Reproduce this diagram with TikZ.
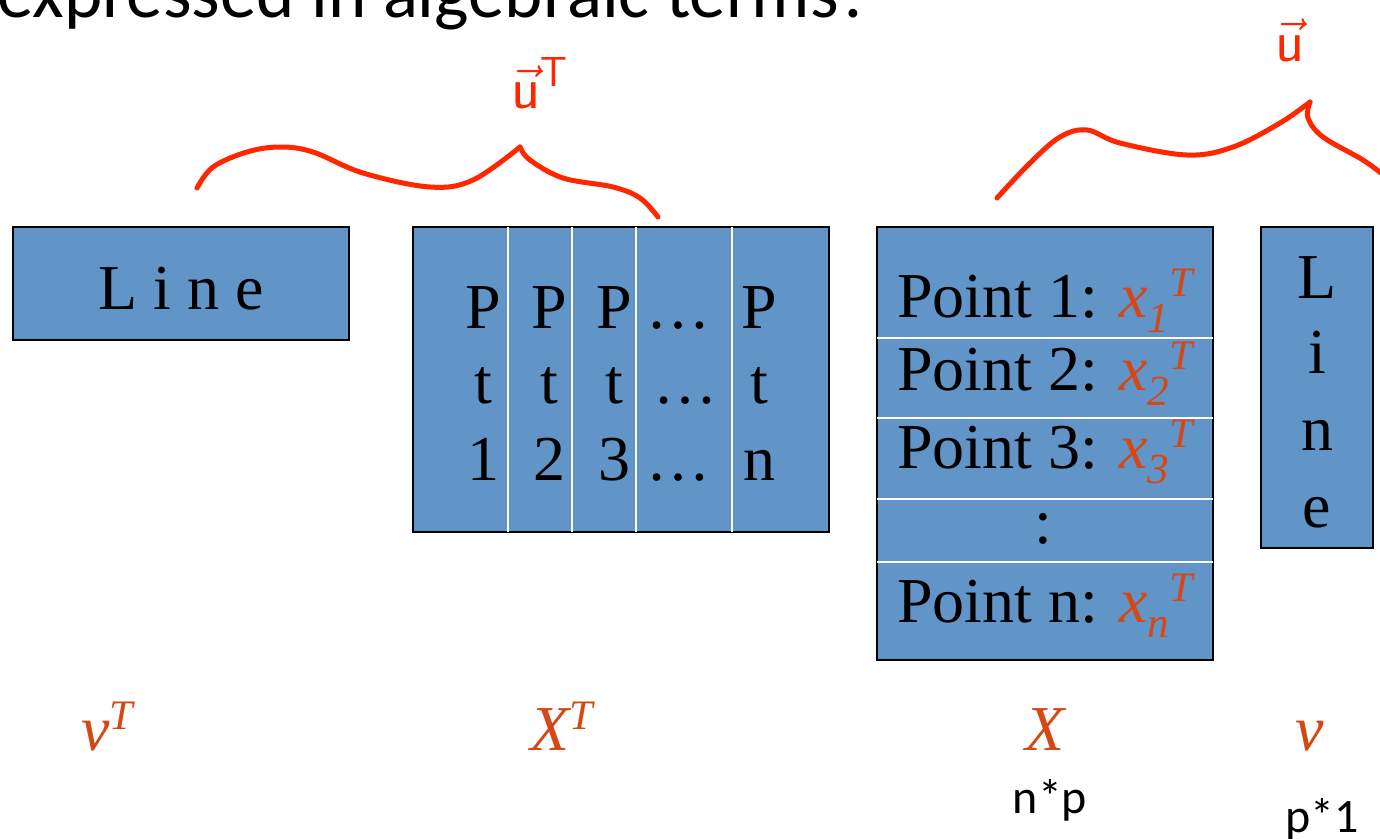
\RequirePackage{fix-cm}
\documentclass[tikz,border=0pt]{standalone}
\usepackage{fontspec}
\setmainfont{Liberation Serif}
\newfontfamily\calibfont{Carlito}
\usetikzlibrary{positioning}
\usepackage{xcolor}

\definecolor{boxblue}{RGB}{97,149,200}
\definecolor{lblorange}{RGB}{213,72,22}
\definecolor{handred}{RGB}{255,38,0}
\newcommand{\raisedpart}[1]{\raisebox{21pt}{\fontsize{42}{42}\selectfont #1}}
\newcommand{\loweredpart}[1]{\raisebox{-15pt}{\fontsize{43}{43}\selectfont #1}}

\begin{document}
\begin{tikzpicture}[
    x=1pt, y=-1pt,
    box/.style={draw=black, line width=2pt, fill=boxblue, inner sep=0pt},
    divider/.style={draw=white, line width=2pt},
    cell/.style={anchor=base, inner sep=0pt, font=\fontsize{64}{76}\selectfont},
    rowtext/.style={anchor=base west, inner sep=0pt, font=\fontsize{64}{76}\selectfont},
    matlabel/.style={anchor=base, inner sep=0pt, text=lblorange, font=\fontsize{64}{76}\selectfont\itshape},
    dims/.style={anchor=base, inner sep=0pt, font=\calibfont\fontsize{48}{48}\selectfont},
    ink/.style={draw=handred, line width=5pt, line cap=round, line join=round},
    inktext/.style={text=handred, inner sep=0pt, font=\fontsize{60}{60}\selectfont}
]
\useasboundingbox (0,0) rectangle (1380,838);
\clip (0,0) rectangle (1380,838);

% slide title, cut at the top
\node[anchor=base west, inner sep=0pt, font=\calibfont\fontsize{73}{73}\selectfont] (title) at (-3,17) {expressed in algebraic terms?};

% v^T
\node[box, minimum width=336pt, minimum height=113pt] (vtbox) at (181,283.5) {};
\node[cell] (vtline) at (181,309) {L i n e};

% X^T
\node[box, minimum width=416pt, minimum height=305pt] (xtbox) at (621,379.5) {};
\draw[divider] ([xshift=96pt,yshift=-1pt]xtbox.north west) -- ([xshift=96pt,yshift=1pt]xtbox.south west);
\draw[divider] ([xshift=160pt,yshift=-1pt]xtbox.north west) -- ([xshift=160pt,yshift=1pt]xtbox.south west);
\draw[divider] ([xshift=224pt,yshift=-1pt]xtbox.north west) -- ([xshift=224pt,yshift=1pt]xtbox.south west);
\draw[divider] ([xshift=320pt,yshift=-1pt]xtbox.north west) -- ([xshift=320pt,yshift=1pt]xtbox.south west);
\node[cell] (pa1) at (483,328) {P}; \node[cell] (pb1) at (483,403) {t}; \node[cell] (pc1) at (483,480) {1};
\node[cell] (pa2) at (549,328) {P}; \node[cell] (pb2) at (549,403) {t}; \node[cell] (pc2) at (549,480) {2};
\node[cell] (pa3) at (614,328) {P}; \node[cell] (pb3) at (614,403) {t}; \node[cell] (pc3) at (614,480) {3};
\node[cell] (paD) at (678,328) {…}; \node[cell] (pbD) at (685,403) {…}; \node[cell] (pcD) at (678,480) {…};
\node[cell] (pan) at (759,328) {P}; \node[cell] (pbn) at (759,403) {t}; \node[cell] (pcn) at (759,480) {n};

% X
\node[box, minimum width=336pt, minimum height=433pt] (xbox) at (1045,443.5) {};
\draw[divider] ([xshift=1pt,yshift=-112pt]xbox.north west) -- ([xshift=-1pt,yshift=-112pt]xbox.north east);
\draw[divider] ([xshift=1pt,yshift=-192pt]xbox.north west) -- ([xshift=-1pt,yshift=-192pt]xbox.north east);
\draw[divider] ([xshift=1pt,yshift=-273pt]xbox.north west) -- ([xshift=-1pt,yshift=-273pt]xbox.north east);
\draw[divider] ([xshift=1pt,yshift=-336pt]xbox.north west) -- ([xshift=-1pt,yshift=-336pt]xbox.north east);
\node[rowtext] (row1) at (897,317) {Point 1: {\color{lblorange}\itshape x\loweredpart{1}\raisedpart{T}}};
\node[rowtext] (row2) at (897,390) {Point 2: {\color{lblorange}\itshape x\loweredpart{2}\raisedpart{T}}};
\node[rowtext] (row3) at (897,468) {Point 3: {\color{lblorange}\itshape x\loweredpart{3}\raisedpart{T}}};
\node[cell] (rowdots) at (1043,543) {:};
\node[rowtext] (rown) at (897,622) {Point n: {\color{lblorange}\itshape x\loweredpart{n}\raisedpart{T}}};

% v
\node[box, minimum width=112pt, minimum height=321pt] (vbox) at (1317,387.5) {};
\node[cell] (vl1) at (1317,298) {L};
\node[cell] (vl2) at (1317,373) {i};
\node[cell] (vl3) at (1317,450) {n};
\node[cell] (vl4) at (1317,527) {e};

% names and sizes
\node[matlabel] (vtname) at (107,750) {v\raisedpart{T}};
\node[matlabel] (xtname) at (562,750) {X\raisedpart{T}};
\node[matlabel] (xname) at (1045,750) {X};
\node[matlabel] (vname) at (1310,750) {v};
\node[dims] (xdims) at (1050,813) {n*p};
\node[dims] (vdims) at (1322,832) {p*1};

% handwritten braces
\draw[ink] plot[smooth, tension=0.6] coordinates {(197,188) (213,167) (247,152) (280,147) (313,152) (363,173) (430,187) (473,180) (520,147)};
\draw[ink] plot[smooth, tension=0.6] coordinates {(520,147) (530,160) (563,178) (613,187) (640,198) (658,217)};
\node[inktext] (utlabel) at (540,83) {$\vec{\mathsf{u}}^{\mathsf{T}}$};
\draw[ink] plot[smooth, tension=0.6] coordinates {(997,198) (1030,163) (1060,137) (1087,130) (1120,143) (1187,155) (1233,147) (1280,123) (1310,102)};
\draw[ink] plot[smooth, tension=0.6] coordinates {(1310,102) (1308,118) (1323,137) (1363,160) (1386,177)};
\node[inktext] (ulabel) at (1290,40) {$\vec{\mathsf{u}}$};

\end{tikzpicture}
\end{document}
